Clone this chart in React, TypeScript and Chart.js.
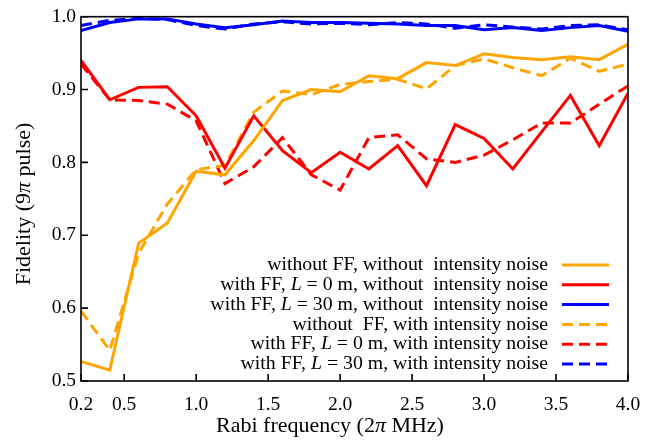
import React, { useEffect, useRef } from "react";
import { Chart, registerables } from "chart.js";

Chart.register(...registerables);

// ---------- data ----------
const rabiFrequency = [0.2, 0.4, 0.6, 0.8, 1.0, 1.2, 1.4, 1.6, 1.8, 2.0, 2.2, 2.4, 2.6, 2.8, 3.0, 3.2, 3.4, 3.6, 3.8, 4.0];

const noFFNoNoise = [0.527, 0.515, 0.689, 0.717, 0.788, 0.783, 0.830, 0.885, 0.900, 0.897, 0.919, 0.915, 0.937, 0.933, 0.949, 0.944, 0.941, 0.945, 0.941, 0.962];
const ffL0NoNoise = [0.940, 0.886, 0.903, 0.904, 0.864, 0.792, 0.864, 0.816, 0.786, 0.814, 0.791, 0.823, 0.768, 0.852, 0.833, 0.791, 0.842, 0.892, 0.823, 0.895];
const ffL30NoNoise = [0.981, 0.992, 0.997, 0.997, 0.990, 0.985, 0.989, 0.994, 0.992, 0.992, 0.991, 0.990, 0.988, 0.988, 0.982, 0.985, 0.981, 0.985, 0.988, 0.980];
const noFFNoise = [0.596, 0.542, 0.675, 0.743, 0.790, 0.796, 0.869, 0.898, 0.893, 0.907, 0.911, 0.914, 0.901, 0.933, 0.942, 0.930, 0.919, 0.943, 0.925, 0.935];
const ffL0Noise = [0.935, 0.886, 0.885, 0.880, 0.857, 0.771, 0.794, 0.834, 0.783, 0.762, 0.834, 0.838, 0.805, 0.800, 0.810, 0.831, 0.854, 0.854, 0.880, 0.905];
const ffL30Noise = [0.988, 0.995, 0.998, 0.996, 0.988, 0.983, 0.990, 0.993, 0.990, 0.991, 0.989, 0.992, 0.990, 0.984, 0.989, 0.986, 0.983, 0.988, 0.989, 0.982];

const xTickValues = [0.2, 0.5, 1.0, 1.5, 2.0, 2.5, 3.0, 3.5, 4.0];
const yTickValues = [0.5, 0.6, 0.7, 0.8, 0.9, 1.0];

// legend label segments: [text, italic]
const seriesLabels: [string, boolean][][] = [
  [["without FF, without  intensity noise", false]],
  [["with FF, ", false], ["L", true], [" = 0 m, without  intensity noise", false]],
  [["with FF, ", false], ["L", true], [" = 30 m, without  intensity noise", false]],
  [["without  FF, with intensity noise", false]],
  [["with FF, ", false], ["L", true], [" = 0 m, with intensity noise", false]],
  [["with FF, ", false], ["L", true], [" = 30 m, with intensity noise", false]],
];
const seriesValues = [noFFNoNoise, ffL0NoNoise, ffL30NoNoise, noFFNoise, ffL0Noise, ffL30Noise];
const seriesColors = ["#FFA500", "#FF0000", "#0000FF", "#FFA500", "#FF0000", "#0000FF"];
const seriesDashed = [false, false, false, true, true, true];

const xTitle: [string, boolean][] = [["Rabi frequency (2", false], ["\u03c0", true], [" MHz)", false]];
const yTitle: [string, boolean][] = [["Fidelity (9", false], ["\u03c0", true], [" pulse)", false]];

const FONT = "'Liberation Serif', 'Times New Roman', serif";
const DASH = [11, 6];
const LINE_W = 3;

function segWidth(ctx: CanvasRenderingContext2D, segs: [string, boolean][], size: number) {
  let w = 0;
  for (const [t, it] of segs) {
    ctx.font = `${it ? "italic " : ""}${size}px ${FONT}`;
    w += ctx.measureText(t).width;
  }
  return w;
}
function drawSegs(ctx: CanvasRenderingContext2D, segs: [string, boolean][], x: number, y: number, size: number) {
  let cx = x;
  for (const [t, it] of segs) {
    ctx.font = `${it ? "italic " : ""}${size}px ${FONT}`;
    ctx.fillText(t, cx, y);
    cx += ctx.measureText(t).width;
  }
}

const decorPlugin = {
  id: "decor",
  afterDraw(chart: any) {
    const { ctx, chartArea } = chart;
    const { left, right, top, bottom } = chartArea;
    const xs = chart.scales.x;
    const ys = chart.scales.y;
    ctx.save();
    ctx.strokeStyle = "#000";
    ctx.lineWidth = 1.6;
    ctx.setLineDash([]);
    ctx.strokeRect(left, top, right - left, bottom - top);
    ctx.beginPath();
    for (const v of xTickValues) {
      const px = xs.getPixelForValue(v);
      ctx.moveTo(px, bottom);
      ctx.lineTo(px, bottom - 7);
    }
    for (const v of yTickValues) {
      const py = ys.getPixelForValue(v);
      ctx.moveTo(left, py);
      ctx.lineTo(left + 7, py);
    }
    ctx.stroke();

    // axis titles
    ctx.fillStyle = "#000";
    ctx.textBaseline = "alphabetic";
    ctx.textAlign = "left";
    const tsize = 22;
    const xw = segWidth(ctx, xTitle, tsize);
    drawSegs(ctx, xTitle, 330 - xw / 2, 432, tsize);
    ctx.save();
    ctx.translate(30, 204);
    ctx.rotate(-Math.PI / 2);
    const yw = segWidth(ctx, yTitle, tsize);
    drawSegs(ctx, yTitle, -yw / 2, 0, tsize);
    ctx.restore();

    // legend
    ctx.textBaseline = "middle";
    const lsize = 19.8;
    const textRight = 548;
    const sx0 = 562;
    const sx1 = 609;
    const y0 = 265;
    const dy = 19.8;
    seriesLabels.forEach((segs, i) => {
      const y = y0 + i * dy;
      const w = segWidth(ctx, segs, lsize);
      ctx.fillStyle = "#000";
      drawSegs(ctx, segs, textRight - w, y, lsize);
      ctx.beginPath();
      ctx.strokeStyle = seriesColors[i];
      ctx.lineWidth = LINE_W;
      ctx.setLineDash(seriesDashed[i] ? DASH : []);
      ctx.moveTo(sx0, y);
      ctx.lineTo(sx1, y);
      ctx.stroke();
    });
    ctx.restore();
  },
};

export default function App() {
  const ref = useRef<HTMLCanvasElement | null>(null);
  useEffect(() => {
    if (!ref.current) return;
    const datasets = seriesValues.map((vals, i) => ({
      label: seriesLabels[i].map((s) => s[0]).join(""),
      data: rabiFrequency.map((x, j) => ({ x, y: vals[j] })),
      borderColor: seriesColors[i],
      backgroundColor: seriesColors[i],
      borderWidth: LINE_W,
      borderDash: seriesDashed[i] ? DASH : [],
      pointRadius: 0,
      tension: 0,
      fill: false,
    }));
    const chart = new Chart(ref.current, {
      type: "line",
      data: { datasets },
      options: {
        animation: false,
        responsive: false,
        devicePixelRatio: 1,
        layout: { padding: { top: 16, right: 39, left: 0, bottom: 0 } },
        plugins: { legend: { display: false }, tooltip: { enabled: false }, title: { display: false } },
        scales: {
          x: {
            type: "linear",
            min: 0.2,
            max: 4.0,
            afterBuildTicks: (s: any) => {
              s.ticks = xTickValues.map((v) => ({ value: v }));
            },
            afterFit: (s: any) => {
              s.height = 64;
            },
            grid: { display: false, drawTicks: false },
            border: { display: false },
            ticks: {
              autoSkip: false,
              maxRotation: 0,
              padding: 12,
              color: "#000",
              font: { family: FONT, size: 19.5 },
              callback: (v: any) => Number(v).toFixed(1),
            },
          },
          y: {
            type: "linear",
            min: 0.5,
            max: 1.0,
            afterBuildTicks: (s: any) => {
              s.ticks = yTickValues.map((v) => ({ value: v }));
            },
            afterFit: (s: any) => {
              s.width = 81;
            },
            grid: { display: false, drawTicks: false },
            border: { display: false },
            ticks: {
              padding: 5,
              color: "#000",
              font: { family: FONT, size: 19.5 },
              callback: (v: any) => Number(v).toFixed(1),
            },
          },
        },
      },
      plugins: [decorPlugin],
    } as any);
    return () => chart.destroy();
  }, []);
  return (
    <div style={{ position: "fixed", left: 0, top: 0, width: 667, height: 445, background: "#fff" }}>
      <canvas ref={ref} width={667} height={445} style={{ width: 667, height: 445, display: "block" }} />
    </div>
  );
}
